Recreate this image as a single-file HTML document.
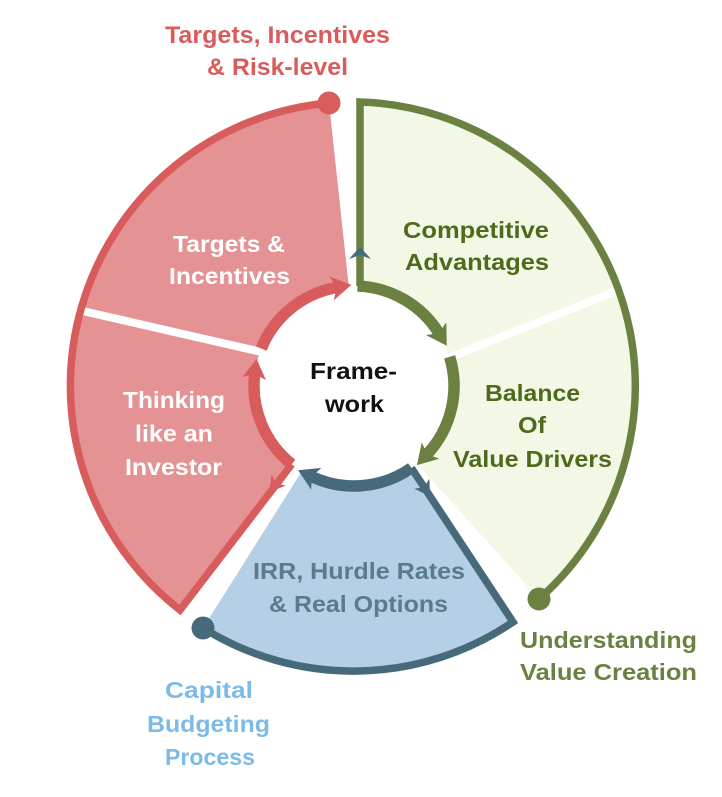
<!DOCTYPE html>
<html>
<head>
<meta charset="utf-8">
<style>
  html, body { margin: 0; padding: 0; background: #ffffff; }
  svg { display: block; }
  text { font-family: "Liberation Sans", Arial, sans-serif; font-weight: bold; }
</style>
</head>
<body>
<svg width="722" height="797" viewBox="0 0 722 797" xmlns="http://www.w3.org/2000/svg">
  <defs>
    <marker id="arRed" markerUnits="userSpaceOnUse" orient="auto" markerWidth="40" markerHeight="40" viewBox="-20 -20 40 40" refX="0" refY="0" overflow="visible">
      <path d="M15,0 L-5,-12 L0,0 L-5,12 Z" fill="#d95c5c"/>
    </marker>
    <marker id="arGreen" markerUnits="userSpaceOnUse" orient="auto" markerWidth="40" markerHeight="40" viewBox="-20 -20 40 40" refX="0" refY="0" overflow="visible">
      <path d="M15,0 L-5,-12 L0,0 L-5,12 Z" fill="#6b8142"/>
    </marker>
    <marker id="arBlue" markerUnits="userSpaceOnUse" orient="auto" markerWidth="40" markerHeight="40" viewBox="-20 -20 40 40" refX="0" refY="0" overflow="visible">
      <path d="M15,0 L-5,-12 L0,0 L-5,12 Z" fill="#476a7b"/>
    </marker>
  </defs>

  <!-- Fills -->
  <path d="M329,103 A284 284 0 0 0 180,610 L291.75,464.26 A100 100 0 0 1 348.77,286.14 Z" fill="#e59294"/>
  <path d="M360,102 A284 284 0 0 1 539,599 L416.93,463.71 A100 100 0 0 0 360,286.18 Z" fill="#f3f8e6"/>
  <path d="M203,628 A284 284 0 0 0 513,622 L411.36,467.9 A100 100 0 0 1 301.75,471.26 Z" fill="#b4cfe6"/>

  <!-- White separators -->
  <line x1="76" y1="309.5" x2="266" y2="353" stroke="#ffffff" stroke-width="8"/>
  <line x1="624" y1="288" x2="448" y2="358" stroke="#ffffff" stroke-width="8"/>

  <!-- Outer strokes + radial lines -->
  <path d="M329,103 A284 284 0 0 0 180,610 L291.75,464.26" fill="none" stroke="#d95c5c" stroke-width="7.5" stroke-linejoin="miter"/>
  <path d="M539,599 A284 284 0 0 0 360,102 L360,286" fill="none" stroke="#6b8142" stroke-width="7.5" stroke-linejoin="miter"/>
  <path d="M203,628 A284 284 0 0 0 513,622 L411.36,467.9" fill="none" stroke="#476a7b" stroke-width="7.5" stroke-linejoin="miter"/>

  <!-- Inner ring arcs with arrowheads -->
  <path d="M291.75,464.26 A100 100 0 0 1 254.75,373.81" fill="none" stroke="#d95c5c" stroke-width="11.5" marker-end="url(#arRed)"/>
  <path d="M261.28,348.54 A100 100 0 0 1 336.64,287.52" fill="none" stroke="#d95c5c" stroke-width="11.5" marker-end="url(#arRed)"/>
  <path d="M357.49,286.06 A100 100 0 0 1 438.8,333.0" fill="none" stroke="#6b8142" stroke-width="11.5" marker-end="url(#arGreen)"/>
  <path d="M449.63,356.76 A100 100 0 0 1 427.14,454.2" fill="none" stroke="#6b8142" stroke-width="11.5" marker-end="url(#arGreen)"/>
  <path d="M411.36,467.9 A100 100 0 0 1 311.74,476.63" fill="none" stroke="#476a7b" stroke-width="11.5" marker-end="url(#arBlue)"/>

  <!-- Arrowheads on radial lines -->
  <polygon points="269.5,492 285.8,485.6 276.2,483.3 271.5,474.6" fill="#d95c5c"/>
  <polygon points="430.1,496.3 414.3,488.8 424.04,487.1 429.3,478.8" fill="#476a7b"/>
  <polygon points="360,247 349,259 360,255 371,259" fill="#476a7b"/>

  <!-- End dots -->
  <circle cx="329" cy="103" r="11.5" fill="#d95c5c"/>
  <circle cx="539" cy="599" r="11.5" fill="#6b8142"/>
  <circle cx="203" cy="628" r="11.5" fill="#476a7b"/>

  <!-- Top label -->
  <text x="277.5" y="43" font-size="24.5" fill="#d95c5c" text-anchor="middle" textLength="225" lengthAdjust="spacingAndGlyphs">Targets, Incentives</text>
  <text x="277.5" y="75" font-size="24.5" fill="#d95c5c" text-anchor="middle" textLength="141" lengthAdjust="spacingAndGlyphs">&amp; Risk-level</text>

  <!-- Red region text -->
  <text x="229" y="252" font-size="23" fill="#ffffff" text-anchor="middle" textLength="112" lengthAdjust="spacingAndGlyphs">Targets &amp;</text>
  <text x="229.5" y="284" font-size="23" fill="#ffffff" text-anchor="middle" textLength="121" lengthAdjust="spacingAndGlyphs">Incentives</text>
  <text x="174" y="408" font-size="23" fill="#ffffff" text-anchor="middle" textLength="102" lengthAdjust="spacingAndGlyphs">Thinking</text>
  <text x="174" y="441.5" font-size="23" fill="#ffffff" text-anchor="middle" textLength="78" lengthAdjust="spacingAndGlyphs">like an</text>
  <text x="173.5" y="475" font-size="23" fill="#ffffff" text-anchor="middle" textLength="97" lengthAdjust="spacingAndGlyphs">Investor</text>

  <!-- Green region text -->
  <text x="476" y="238" font-size="23" fill="#4e6a1a" text-anchor="middle" textLength="146" lengthAdjust="spacingAndGlyphs">Competitive</text>
  <text x="477" y="270" font-size="23" fill="#4e6a1a" text-anchor="middle" textLength="144" lengthAdjust="spacingAndGlyphs">Advantages</text>
  <text x="532.5" y="401" font-size="23" fill="#4e6a1a" text-anchor="middle" textLength="95" lengthAdjust="spacingAndGlyphs">Balance</text>
  <text x="532" y="433" font-size="23" fill="#4e6a1a" text-anchor="middle" textLength="28" lengthAdjust="spacingAndGlyphs">Of</text>
  <text x="532.5" y="467" font-size="23" fill="#4e6a1a" text-anchor="middle" textLength="159" lengthAdjust="spacingAndGlyphs">Value Drivers</text>

  <!-- Center text -->
  <text x="353.5" y="379" font-size="23" fill="#111111" text-anchor="middle" textLength="87" lengthAdjust="spacingAndGlyphs">Frame-</text>
  <text x="354.5" y="412" font-size="23" fill="#111111" text-anchor="middle" textLength="59" lengthAdjust="spacingAndGlyphs">work</text>

  <!-- Blue region text -->
  <text x="359" y="579" font-size="23" fill="#587b8d" text-anchor="middle" textLength="212" lengthAdjust="spacingAndGlyphs">IRR, Hurdle Rates</text>
  <text x="358.5" y="612" font-size="23" fill="#587b8d" text-anchor="middle" textLength="179" lengthAdjust="spacingAndGlyphs">&amp; Real Options</text>

  <!-- Outer labels -->
  <text x="608.5" y="648" font-size="23" fill="#6b8142" text-anchor="middle" textLength="177" lengthAdjust="spacingAndGlyphs">Understanding</text>
  <text x="608.5" y="680" font-size="23" fill="#6b8142" text-anchor="middle" textLength="177" lengthAdjust="spacingAndGlyphs">Value Creation</text>

  <text x="209" y="698" font-size="23" fill="#7bbbe8" text-anchor="middle" textLength="88" lengthAdjust="spacingAndGlyphs">Capital</text>
  <text x="208.5" y="732" font-size="23" fill="#7bbbe8" text-anchor="middle" textLength="123" lengthAdjust="spacingAndGlyphs">Budgeting</text>
  <text x="210" y="765" font-size="23" fill="#7bbbe8" text-anchor="middle" textLength="90" lengthAdjust="spacingAndGlyphs">Process</text>
</svg>
</body>
</html>
